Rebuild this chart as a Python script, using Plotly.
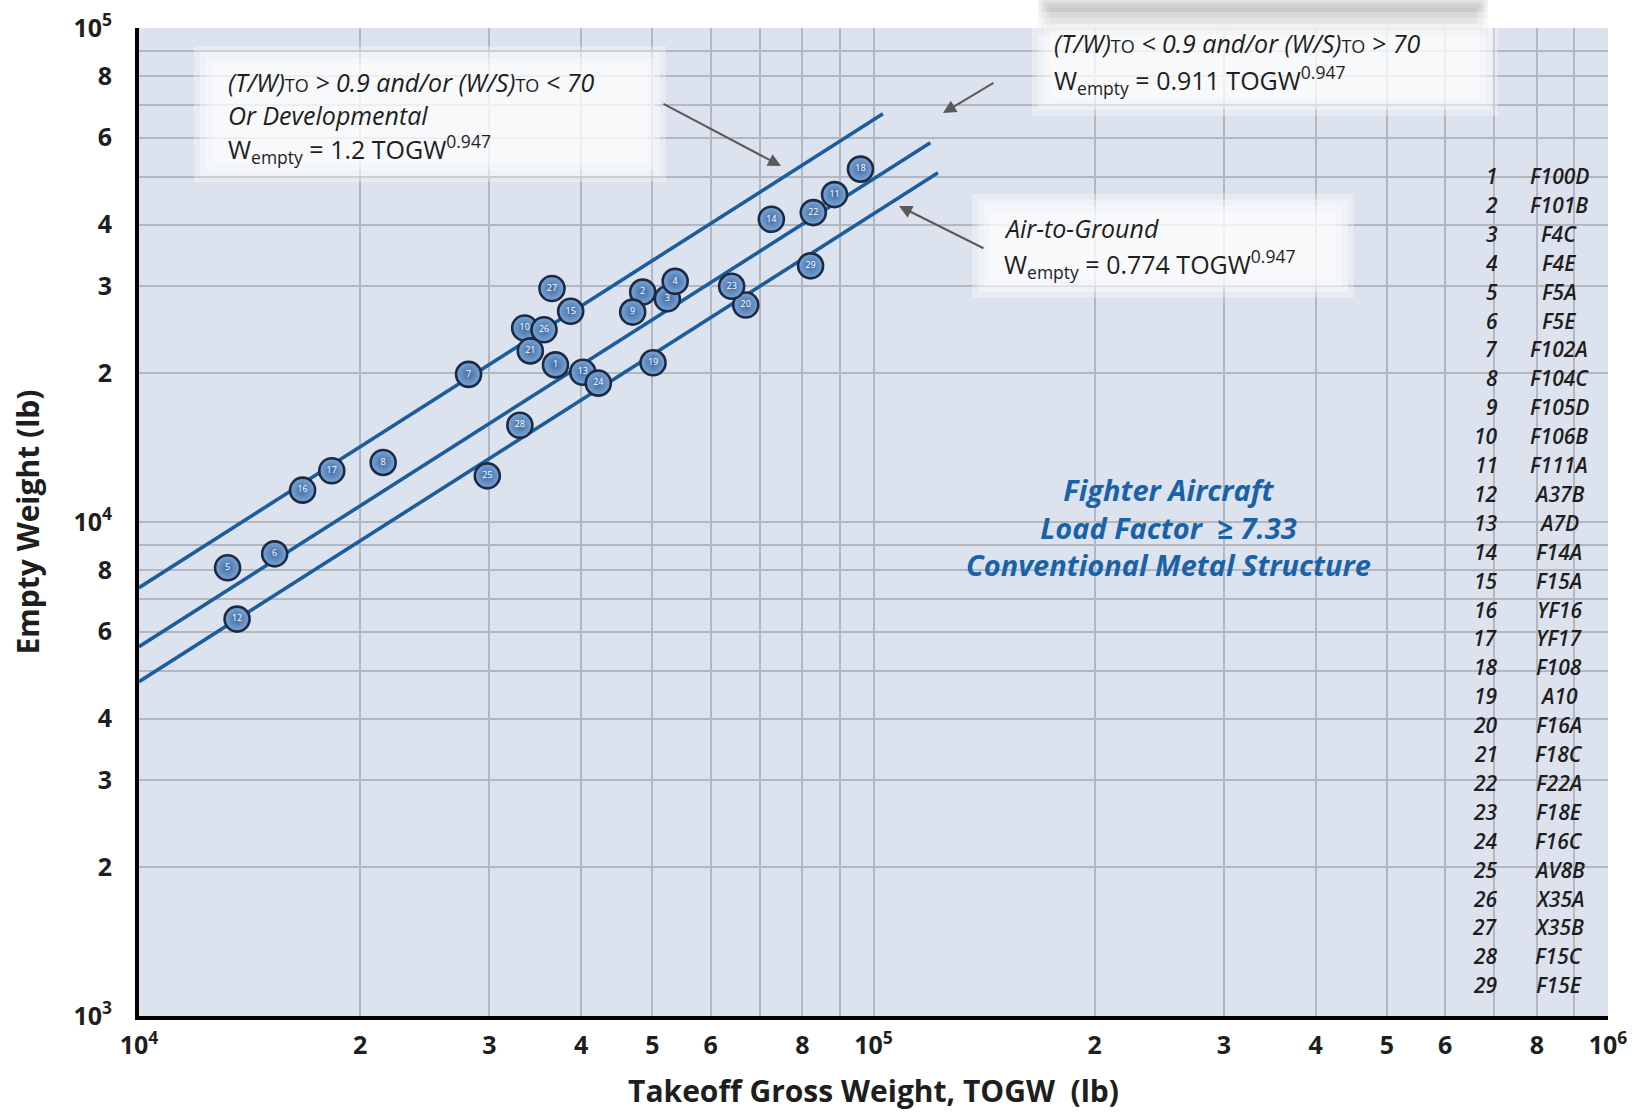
import plotly.graph_objects as go
import numpy as np

# ---- aircraft data: takeoff gross weight vs empty weight (lb) ----
aircraft_ids = list(range(1, 30))
aircraft_names = ["F100D", "F101B", "F4C", "F4E", "F5A", "F5E", "F102A", "F104C",
                  "F105D", "F106B", "F111A", "A37B", "A7D", "F14A", "F15A", "YF16",
                  "YF17", "F108", "A10", "F16A", "F18C", "F22A", "F18E", "F16C",
                  "AV8B", "X35A", "X35B", "F15C", "F15E"]
togw = [36900, 48500, 52400, 53700, 13200, 15300, 28100, 21500,
        47000, 33500, 88500, 13600, 40200, 72600, 38700, 16700,
        18300, 96000, 50100, 67000, 34100, 82800, 64100, 42200,
        29800, 35600, 36500, 33000, 82100]
empty_wt = [20800, 29200, 28300, 30700, 8080, 8620, 19900, 13200,
            26600, 24700, 46000, 6360, 20100, 41000, 26700, 11600,
            12700, 51800, 21000, 27500, 22200, 42300, 30000, 19100,
            12400, 24500, 29700, 15700, 33000]

# ---- trend lines: W_empty = A * TOGW^B ----
trend_coef = [1.2, 0.911, 0.774]
trend_exp = 0.947
trend_togw_start = [1.0e4, 1.0e4, 1.0e4]
trend_togw_end = [103000, 119500, 122400]

# ---- axis ticks ----
x_tick_vals = [1e4, 2e4, 3e4, 4e4, 5e4, 6e4, 7e4, 8e4, 9e4,
               1e5, 2e5, 3e5, 4e5, 5e5, 6e5, 7e5, 8e5, 9e5, 1e6]
x_tick_text = ["10<sup>4</sup>", "2", "3", "4", "5", "6", "", "8", "",
               "10<sup>5</sup>", "2", "3", "4", "5", "6", "", "8", "", "10<sup>6</sup>"]
y_tick_vals = [1e3, 2e3, 3e3, 4e3, 5e3, 6e3, 7e3, 8e3, 9e3,
               1e4, 2e4, 3e4, 4e4, 5e4, 6e4, 7e4, 8e4, 9e4, 1e5]
y_tick_text = ["10<sup>3</sup>", "2", "3", "4", "", "6", "", "8", "",
               "10<sup>4</sup>", "2", "3", "4", "", "6", "", "8", "", "10<sup>5</sup>"]

W, H = 1643, 1113
ML, MR, MT, MB = 139, 35, 28, 97
PW, PH = W - ML - MR, H - MT - MB

FONT = "Open Sans"
LINE_BLUE = "#1b5e9e"
BG = "#dce3ee"
GRID = "#b3b8c0"
TEXT = "#1e1e1e"


def px(x):
    """pixel x -> paper fraction"""
    return (x - ML) / PW


def py(y):
    """pixel y (from top) -> paper fraction"""
    return (H - MB - y) / PH


fig = go.Figure()

# trend lines
for a, x0, x1 in zip(trend_coef, trend_togw_start, trend_togw_end):
    xs = np.array([x0, x1])
    fig.add_trace(go.Scatter(
        x=xs, y=a * xs ** trend_exp, mode="lines",
        line=dict(color=LINE_BLUE, width=3.6),
        hoverinfo="skip", showlegend=False))

# numbered aircraft markers
fig.add_trace(go.Scatter(
    x=togw, y=empty_wt, mode="markers+text",
    text=[str(i) for i in aircraft_ids],
    textposition="middle center",
    textfont=dict(family=FONT, size=9, color="white"),
    marker=dict(size=25, color="#7ea6d6",
                gradient=dict(type="radial", color="#3f6da6"),
                line=dict(color="#1b2b45", width=2.6)),
    customdata=aircraft_names,
    hovertemplate="%{customdata}<br>TOGW %{x:,} lb<br>Empty %{y:,} lb<extra></extra>",
    showlegend=False))

shapes = []


def glow_box(x0, y0, x1, y1, color="255,255,255", layers=4, step=6, alpha=0.32):
    """soft-edged box built from stacked translucent rectangles (pixel coords)"""
    for k in range(layers):
        d = (layers - 1 - k) * step
        shapes.append(dict(
            type="rect", xref="paper", yref="paper", layer="above",
            x0=px(x0 - d), x1=px(x1 + d), y0=py(y1 + d), y1=py(y0 - d),
            fillcolor=f"rgba({color},{alpha})", line=dict(width=0)))


# soft shadow above the upper-right label
glow_box(1050, 8, 1476, 24, color="150,150,150", layers=5, step=3, alpha=0.13)
# label backgrounds
glow_box(212, 64, 648, 164)
glow_box(1050, 30, 1480, 98)
glow_box(990, 212, 1336, 280)

annotations = []

LABEL_FONT = dict(family=FONT, size=25, color=TEXT)
TO = "<span style='font-size:18px'>TO</span>"


def label(x, y, text):
    annotations.append(dict(
        xref="paper", yref="paper", x=px(x), y=py(y), xanchor="left", yanchor="middle",
        align="left", showarrow=False, font=LABEL_FONT, text=text))


# upper-left label
label(226, 82, f"<i>(T/W)</i>{TO}<i> &gt; 0.9 and/or (W/S)</i>{TO}<i> &lt; 70</i>")
label(226, 115, "<i>Or Developmental</i>")
label(226, 149, "W<sub>empty</sub> = 1.2 TOGW<sup>0.947</sup>")
# upper-right label
label(1052, 43, f"<i>(T/W)</i>{TO}<i> &lt; 0.9 and/or (W/S)</i>{TO}<i> &gt; 70</i>")
label(1052, 80, "W<sub>empty</sub> = 0.911 TOGW<sup>0.947</sup>")
# air-to-ground label
label(1002, 228, "<i>Air-to-Ground</i>")
label(1002, 264, "W<sub>empty</sub> = 0.774 TOGW<sup>0.947</sup>")

# pointer arrows (tail -> head in pixels)
for (tx, ty), (hx, hy) in [((662, 103), (781, 166)),
                           ((995, 82), (943, 113)),
                           ((985, 249), (899, 206))]:
    annotations.append(dict(
        xref="paper", yref="paper", x=px(hx), y=py(hy),
        axref="pixel", ayref="pixel", ax=tx - hx, ay=ty - hy,
        showarrow=True, arrowhead=2, arrowsize=1.3, arrowwidth=2,
        arrowcolor="#5a5a5a", text=""))

# chart caption
annotations.append(dict(
    xref="paper", yref="paper", x=px(1168), y=py(527), xanchor="center", yanchor="middle",
    align="center", showarrow=False,
    font=dict(family=FONT, size=29, color="#1a62a8", weight="bold"),
    text="<i>Fighter Aircraft</i><br><i>Load Factor  \u2265 7.33</i><br>"
         "<i>Conventional Metal Structure</i>"))

# aircraft key
key_top, key_step = 176, 28.9
for i, (n, name) in enumerate(zip(aircraft_ids, aircraft_names)):
    yy = py(key_top + i * key_step)
    annotations.append(dict(
        xref="paper", yref="paper", x=px(1500), y=yy, xanchor="right", yanchor="middle",
        showarrow=False, font=dict(family=FONT, size=21, color=TEXT, weight=600),
        text=f"<i>{n}</i>"))
    annotations.append(dict(
        xref="paper", yref="paper", x=px(1559), y=yy, xanchor="center", yanchor="middle",
        showarrow=False, font=dict(family=FONT, size=21, color=TEXT, weight=600),
        text=f"<i>{name}</i>"))

axis_common = dict(
    type="log", showgrid=True, gridcolor=GRID, gridwidth=1.5,
    showline=True, linecolor="black", linewidth=4, zeroline=False,
    automargin=False,
    ticks="outside", tickcolor="rgba(0,0,0,0)",
    tickfont=dict(family=FONT, size=25, color=TEXT, weight="bold"),
    title_font=dict(family=FONT, size=30, color=TEXT, weight="bold"))

fig.update_layout(
    width=W, height=H,
    margin=dict(l=ML, r=MR, t=MT, b=MB, pad=0),
    paper_bgcolor="white", plot_bgcolor=BG,
    xaxis=dict(axis_common, range=[4, 6], tickmode="array", ticklen=4,
               tickvals=x_tick_vals, ticktext=x_tick_text,
               title=dict(text="Takeoff Gross Weight, TOGW  (lb)", standoff=22)),
    yaxis=dict(axis_common, range=[3, 5], tickmode="array", ticklen=18,
               tickvals=y_tick_vals, ticktext=y_tick_text,
               title=dict(text="Empty Weight (lb)", standoff=26)),
    shapes=shapes, annotations=annotations,
)

fig.write_html("out.html")
